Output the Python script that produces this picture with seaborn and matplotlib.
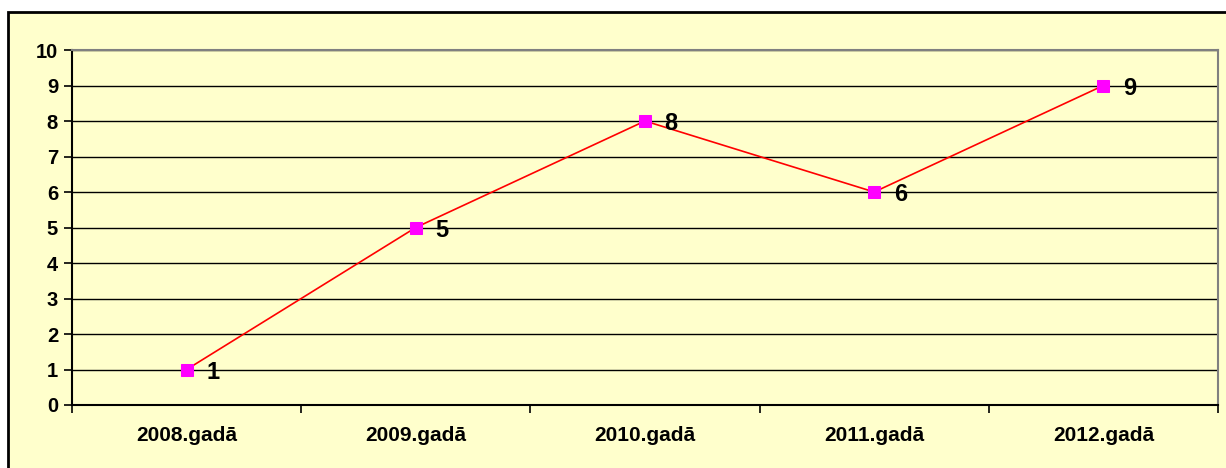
import matplotlib
matplotlib.use("Agg")
import matplotlib.pyplot as plt
import matplotlib.patches as patches
import seaborn as sns
import pandas as pd

years = ['2008.gadā', '2009.gadā', '2010.gadā', '2011.gadā', '2012.gadā']
values = [1, 5, 8, 6, 9]

sns.set_style("white")
plt.rcParams['font.family'] = ['Liberation Sans', 'DejaVu Sans']
plt.rcParams['font.weight'] = 'bold'
plt.rcParams['text.color'] = 'black'
plt.rcParams['xtick.color'] = 'black'
plt.rcParams['ytick.color'] = 'black'

df = pd.DataFrame({'year': years, 'value': values})

fig = plt.figure(figsize=(12.26, 4.68), dpi=100, facecolor='white')
# outer chart frame, cut off on the right and bottom like the original
frame = patches.Rectangle((8 / 1226, -0.2), 1.2, 1 - 12 / 468 + 0.2,
                          transform=fig.transFigure, facecolor='#FFFFCC',
                          edgecolor='black', linewidth=2, zorder=-10)
fig.add_artist(frame)

ax = fig.add_axes([72 / 1226, 1 - 405 / 468, (1218 - 72) / 1226, (405 - 50) / 468])
ax.set_zorder(1)
ax.set_facecolor('#FFFFCC')

sns.lineplot(data=df, x='year', y='value', ax=ax, color='#FF0000', linewidth=1.2,
             marker='s', markersize=8, markerfacecolor='#FF00FF',
             markeredgecolor='#FF00FF', zorder=3)

for i, v in enumerate(values):
    ax.annotate(str(v), (i, v), xytext=(14, -2), textcoords='offset points',
                ha='left', va='center', fontsize=17, fontweight='bold',
                color='black', zorder=4)

ax.set_xlim(-0.5, len(years) - 0.5)
ax.set_ylim(0, 10)
ax.set_yticks(range(0, 11))
ax.yaxis.grid(True, color='black', linewidth=1)
ax.xaxis.grid(False)
ax.set_axisbelow(True)

ax.set_xticks(range(len(years)))
ax.set_xticklabels(years, fontsize=15, fontweight='bold')
ax.set_xticks([i - 0.5 for i in range(len(years) + 1)], minor=True)
ax.tick_params(axis='x', which='major', bottom=True, length=0, pad=15, labelcolor='black')
ax.tick_params(axis='x', which='minor', bottom=True, length=6, width=1.2,
               color='black', direction='out')
ax.tick_params(axis='y', length=6, width=1.2, color='black', direction='out',
               labelsize=14.5, pad=4, left=True, labelcolor='black')
for lab in ax.get_yticklabels():
    lab.set_fontweight('bold')

ax.set_xlabel('')
ax.set_ylabel('')
for s in ['left', 'bottom']:
    ax.spines[s].set_color('black')
    ax.spines[s].set_linewidth(1.5)
for s in ['top', 'right']:
    ax.spines[s].set_color('#808080')
    ax.spines[s].set_linewidth(1.5)

fig.savefig('out.png', dpi=100, facecolor=fig.get_facecolor())
